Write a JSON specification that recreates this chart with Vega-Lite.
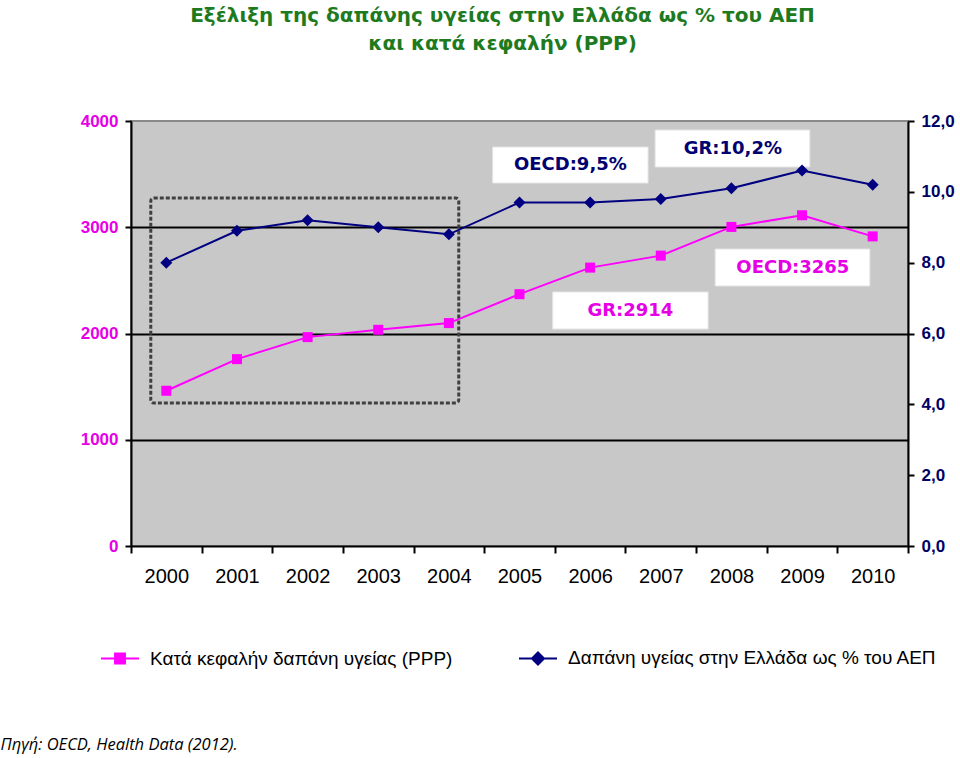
{
  "$schema": "https://vega.github.io/schema/vega-lite/v6.json",
  "width": 777,
  "height": 425,
  "autosize": {"type": "none"},
  "padding": {"left": 131, "top": 121, "right": 52, "bottom": 212},
  "background": "white",
  "title": {
    "text": ["Εξέλιξη της δαπάνης υγείας στην Ελλάδα ως % του ΑΕΠ", "και κατά κεφαλήν (PPP)"],
    "anchor": "middle",
    "frame": "group",
    "font": "DejaVu Sans",
    "fontSize": 20,
    "fontWeight": "bold",
    "color": "#1e7a1e",
    "lineHeight": 28,
    "offset": 58,
    "dx": -17
  },
  "datasets": {
    "ppp": [
      {"year": "2000", "value": 1461, "series": "Κατά κεφαλήν δαπάνη υγείας (PPP)"},
      {"year": "2001", "value": 1759, "series": "Κατά κεφαλήν δαπάνη υγείας (PPP)"},
      {"year": "2002", "value": 1966, "series": "Κατά κεφαλήν δαπάνη υγείας (PPP)"},
      {"year": "2003", "value": 2035, "series": "Κατά κεφαλήν δαπάνη υγείας (PPP)"},
      {"year": "2004", "value": 2098, "series": "Κατά κεφαλήν δαπάνη υγείας (PPP)"},
      {"year": "2005", "value": 2370, "series": "Κατά κεφαλήν δαπάνη υγείας (PPP)"},
      {"year": "2006", "value": 2620, "series": "Κατά κεφαλήν δαπάνη υγείας (PPP)"},
      {"year": "2007", "value": 2733, "series": "Κατά κεφαλήν δαπάνη υγείας (PPP)"},
      {"year": "2008", "value": 3003, "series": "Κατά κεφαλήν δαπάνη υγείας (PPP)"},
      {"year": "2009", "value": 3113, "series": "Κατά κεφαλήν δαπάνη υγείας (PPP)"},
      {"year": "2010", "value": 2914, "series": "Κατά κεφαλήν δαπάνη υγείας (PPP)"}
    ],
    "gdp": [
      {"year": "2000", "value": 8.0, "series": "Δαπάνη υγείας στην Ελλάδα ως % του ΑΕΠ"},
      {"year": "2001", "value": 8.9, "series": "Δαπάνη υγείας στην Ελλάδα ως % του ΑΕΠ"},
      {"year": "2002", "value": 9.2, "series": "Δαπάνη υγείας στην Ελλάδα ως % του ΑΕΠ"},
      {"year": "2003", "value": 9.0, "series": "Δαπάνη υγείας στην Ελλάδα ως % του ΑΕΠ"},
      {"year": "2004", "value": 8.8, "series": "Δαπάνη υγείας στην Ελλάδα ως % του ΑΕΠ"},
      {"year": "2005", "value": 9.7, "series": "Δαπάνη υγείας στην Ελλάδα ως % του ΑΕΠ"},
      {"year": "2006", "value": 9.7, "series": "Δαπάνη υγείας στην Ελλάδα ως % του ΑΕΠ"},
      {"year": "2007", "value": 9.8, "series": "Δαπάνη υγείας στην Ελλάδα ως % του ΑΕΠ"},
      {"year": "2008", "value": 10.1, "series": "Δαπάνη υγείας στην Ελλάδα ως % του ΑΕΠ"},
      {"year": "2009", "value": 10.6, "series": "Δαπάνη υγείας στην Ελλάδα ως % του ΑΕΠ"},
      {"year": "2010", "value": 10.2, "series": "Δαπάνη υγείας στην Ελλάδα ως % του ΑΕΠ"}
    ],
    "frame": [
      {"x1": 1999.78, "x2": 2004.14, "y1": 1346, "y2": 3275}
    ],
    "boxes": [
      {"label": "OECD:9,5%", "series": "gdp", "x1": 2004.62, "x2": 2006.82, "y1": 3416, "y2": 3755, "xt": 2005.72, "yt": 3585},
      {"label": "GR:10,2%", "series": "gdp", "x1": 2006.92, "x2": 2009.11, "y1": 3567, "y2": 3915, "xt": 2008.02, "yt": 3741},
      {"label": "OECD:3265", "series": "ppp", "x1": 2007.77, "x2": 2009.96, "y1": 2447, "y2": 2795, "xt": 2008.87, "yt": 2621},
      {"label": "GR:2914", "series": "ppp", "x1": 2005.47, "x2": 2007.67, "y1": 2042, "y2": 2391, "xt": 2006.57, "yt": 2216}
    ]
  },
  "layer": [
    {
      "layer": [
        {
          "data": {"name": "frame"},
          "mark": {"type": "rect", "fill": null, "filled": false, "stroke": "#404040", "strokeWidth": 3, "strokeDash": [4, 2], "cornerRadius": 3},
          "encoding": {
            "x": {"field": "x1", "type": "quantitative", "scale": {"domain": [1999.5, 2010.5], "nice": false, "zero": false}, "axis": null},
            "x2": {"field": "x2"},
            "y": {"field": "y1", "type": "quantitative", "scale": {"domain": [0, 4000], "nice": false}, "axis": null},
            "y2": {"field": "y2"}
          }
        },
        {
          "data": {"name": "boxes"},
          "mark": {"type": "rect", "fill": "white", "stroke": "#e4e4e4", "strokeWidth": 1},
          "encoding": {
            "x": {"field": "x1", "type": "quantitative", "scale": {"domain": [1999.5, 2010.5], "nice": false, "zero": false}, "axis": null},
            "x2": {"field": "x2"},
            "y": {"field": "y1", "type": "quantitative", "scale": {"domain": [0, 4000], "nice": false}, "axis": null},
            "y2": {"field": "y2"}
          }
        },
        {
          "data": {"name": "boxes"},
          "mark": {"type": "text", "font": "DejaVu Sans", "fontSize": 18, "fontWeight": "bold", "align": "center", "baseline": "middle"},
          "encoding": {
            "x": {"field": "xt", "type": "quantitative", "scale": {"domain": [1999.5, 2010.5], "nice": false, "zero": false}, "axis": null},
            "y": {"field": "yt", "type": "quantitative", "scale": {"domain": [0, 4000], "nice": false}, "axis": null},
            "text": {"field": "label"},
            "color": {"condition": {"test": "datum.series == 'gdp'", "value": "#000070"}, "value": "#e600e6"}
          }
        }
      ]
    },
    {
      "data": {"name": "ppp"},
      "encoding": {
        "x": {
          "field": "year", "type": "ordinal", "bandPosition": 0.5,
          "scale": {"type": "band", "paddingInner": 0, "paddingOuter": 0},
          "axis": {
            "orient": "bottom", "tickBand": "extent", "labelAngle": 0,
            "domainColor": "black", "domainWidth": 2, "tickColor": "black", "tickWidth": 2, "tickSize": 7,
            "labelFont": "Liberation Sans", "labelFontSize": 20, "labelColor": "black", "labelPadding": 13,
            "grid": false,
            "title": "Πηγή: OECD, Health Data (2012).",
            "titleX": -131, "titleY": 198, "titleAlign": "left", "titleAnchor": "start", "titleBaseline": "middle",
            "titleFont": "Open Sans", "titleFontSize": 16.5, "titleFontWeight": "normal", "titleFontStyle": "italic", "titleColor": "black"
          }
        },
        "y": {
          "field": "value", "type": "quantitative",
          "scale": {"domain": [0, 4000], "nice": false},
          "axis": {
            "orient": "left", "values": [0, 1000, 2000, 3000, 4000], "title": null, "format": "d",
            "domainColor": "black", "domainWidth": 2, "tickColor": "black", "tickWidth": 2, "tickSize": 6,
            "labelFont": "Liberation Sans", "labelFontSize": 17, "labelFontWeight": "bold", "labelColor": "#e600e6", "labelPadding": 7,
            "grid": true, "gridWidth": 2,
            "gridColor": {"condition": {"test": "datum.value == 4000 || datum.value == 0", "value": "transparent"}, "value": "black"}
          }
        }
      },
      "layer": [
        {
          "mark": {"type": "line", "strokeWidth": 2},
          "encoding": {
            "color": {
              "field": "series", "type": "nominal",
              "scale": {"domain": ["Κατά κεφαλήν δαπάνη υγείας (PPP)", "Δαπάνη υγείας στην Ελλάδα ως % του ΑΕΠ"], "range": ["#ff00ff", "#000080"]},
              "legend": {
                "orient": "none", "legendX": -31, "legendY": 517, "direction": "horizontal", "title": null,
                "symbolSize": 1444, "symbolStrokeWidth": 2,
                "labelFont": "Liberation Sans", "labelFontSize": 19, "labelColor": "black", "labelLimit": 600, "labelOffset": 10,
                "columnPadding": 62, "padding": 0,
                "encode": {
                  "symbols": {
                    "update": {
                      "shape": {"signal": "datum.value == 'Κατά κεφαλήν δαπάνη υγείας (PPP)' ? 'M-1,0L1,0M-0.26,-0.26L0.26,-0.26L0.26,0.26L-0.26,0.26Z' : 'M-1,0L1,0M0,-0.32L0.32,0L0,0.32L-0.32,0Z'"},
                      "fill": {"signal": "datum.value == 'Κατά κεφαλήν δαπάνη υγείας (PPP)' ? '#ff00ff' : '#000080'"},
                      "stroke": {"signal": "datum.value == 'Κατά κεφαλήν δαπάνη υγείας (PPP)' ? '#ff00ff' : '#000080'"},
                      "opacity": {"value": 1},
                      "fillOpacity": {"value": 1}
                    }
                  }
                }
              }
            }
          }
        },
        {
          "mark": {"type": "point", "shape": "square", "filled": true, "size": 100, "color": "#ff00ff", "opacity": 1}
        }
      ]
    },
    {
      "data": {"name": "gdp"},
      "encoding": {
        "x": {
          "field": "year", "type": "ordinal", "bandPosition": 0.5,
          "scale": {"type": "band", "paddingInner": 0, "paddingOuter": 0},
          "axis": null
        },
        "y": {
          "field": "value", "type": "quantitative",
          "scale": {"domain": [0, 12], "nice": false},
          "axis": {
            "orient": "right", "values": [0, 2, 4, 6, 8, 10, 12], "title": null,
            "labelExpr": "replace(format(datum.value, '.1f'), '.', ',')",
            "domainColor": "black", "domainWidth": 2, "tickColor": "black", "tickWidth": 2, "tickSize": 6,
            "labelFont": "Liberation Sans", "labelFontSize": 17, "labelFontWeight": "bold", "labelColor": "#000066", "labelPadding": 7,
            "grid": false
          }
        }
      },
      "layer": [
        {
          "mark": {"type": "line", "strokeWidth": 2},
          "encoding": {"color": {"field": "series", "type": "nominal"}}
        },
        {
          "mark": {"type": "point", "shape": "diamond", "filled": true, "size": 144, "color": "#000080", "opacity": 1}
        }
      ]
    }
  ],
  "resolve": {"scale": {"x": "independent", "y": "independent"}},
  "config": {
    "view": {"fill": "#c8c8c8", "stroke": "#8a8a8a", "strokeWidth": 2}
  }
}
